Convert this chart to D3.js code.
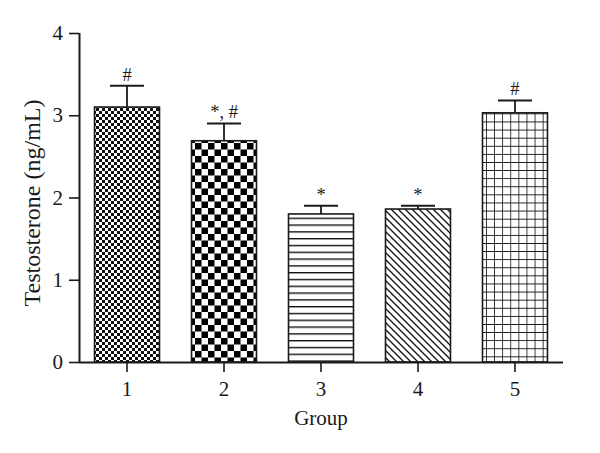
<!DOCTYPE html>
<html><head><meta charset="utf-8">
<script src="https://cdn.jsdelivr.net/npm/d3@7"></script>
<style>body{margin:0;background:#fff}svg{display:block}</style>
</head><body><div id="c"></div>
<script>
const groups = ["1","2","3","4","5"];
const means = [3.10, 2.69, 1.80, 1.86, 3.03];
const errs = [0.26, 0.21, 0.10, 0.04, 0.15];
const marks = ["#", "*, #", "*", "*", "#"];
const yTicks = [0,1,2,3,4];

const W=600,H=453;
const svg=d3.select("#c").append("svg").attr("width",W).attr("height",H);
const mLeft=79,mRight=563,mTop=33,mBottom=362;
const x=d3.scaleBand().domain(groups).range([mLeft,mRight]).paddingInner(0.33).paddingOuter(0.16);
const y=d3.scaleLinear().domain([0,4]).range([mBottom,mTop]);
const ink="#1a1a1a";
const font="Liberation Serif";
const defs=svg.append("defs");
const p1=defs.append("pattern").attr("id","p1").attr("patternUnits","userSpaceOnUse").attr("width",6).attr("height",6);
p1.append("rect").attr("width",6).attr("height",6).attr("fill","#fff");
p1.append("rect").attr("x",0).attr("y",0).attr("width",3).attr("height",3).attr("fill","#111");
p1.append("rect").attr("x",3).attr("y",3).attr("width",3).attr("height",3).attr("fill","#111");
const p2=defs.append("pattern").attr("id","p2").attr("patternUnits","userSpaceOnUse").attr("width",13).attr("height",13);
p2.append("rect").attr("width",13).attr("height",13).attr("fill","#fff");
p2.append("rect").attr("x",0).attr("y",0).attr("width",6.5).attr("height",6.5).attr("fill","#000");
p2.append("rect").attr("x",6.5).attr("y",6.5).attr("width",6.5).attr("height",6.5).attr("fill","#000");
const p3=defs.append("pattern").attr("id","p3").attr("patternUnits","userSpaceOnUse").attr("width",10).attr("height",6.8);
p3.append("rect").attr("width",10).attr("height",6.8).attr("fill","#fff");
p3.append("line").attr("x1",0).attr("x2",10).attr("y1",0.7).attr("y2",0.7).attr("stroke","#111").attr("stroke-width",1.4);
const p4=defs.append("pattern").attr("id","p4").attr("patternUnits","userSpaceOnUse").attr("width",7).attr("height",7);
p4.append("rect").attr("width",7).attr("height",7).attr("fill","#fff");
p4.append("path").attr("d","M-1,-1 L8,8 M-1,6 L1,8 M6,-1 L8,1").attr("stroke","#111").attr("stroke-width",1.3);
const p5=defs.append("pattern").attr("id","p5").attr("patternUnits","userSpaceOnUse").attr("width",8.1).attr("height",8.1);
p5.append("rect").attr("width",8.1).attr("height",8.1).attr("fill","#fff");
p5.append("path").attr("d","M0,0 H8.1 M0,0 V8.1").attr("stroke","#111").attr("stroke-width",1.6);
const fills=["url(#p1)","url(#p2)","url(#p3)","url(#p4)","url(#p5)"];

const g=svg.append("g");
const ann=svg.append("g").attr("opacity",0.999);
groups.forEach((k,i)=>{
  const cx=x(k)+x.bandwidth()/2;
  const yt=y(means[i]+errs[i]);
  g.append("line").attr("x1",cx).attr("x2",cx).attr("y1",y(means[i])).attr("y2",yt).attr("stroke",ink).attr("stroke-width",1.8);
  g.append("line").attr("x1",cx-17).attr("x2",cx+17).attr("y1",yt).attr("y2",yt).attr("stroke",ink).attr("stroke-width",2);
  ann.append("text").attr("x",cx).attr("y",yt-5).attr("text-anchor","middle")
    .attr("font-family",font).attr("font-size",18.5).attr("fill",ink).text(marks[i]);
});
svg.append("g").selectAll("rect").data(groups).join("rect")
  .attr("x",d=>x(d)).attr("width",x.bandwidth())
  .attr("y",(d,i)=>y(means[i])).attr("height",(d,i)=>y(0)-y(means[i]))
  .attr("fill",(d,i)=>fills[i]).attr("stroke",ink).attr("stroke-width",1.6);

const ya=svg.append("g").attr("transform",`translate(${mLeft},0)`)
  .call(d3.axisLeft(y).tickValues(yTicks).tickFormat(d3.format("d")).tickSize(10).tickSizeOuter(0).tickPadding(6));
const xa=svg.append("g").attr("transform",`translate(0,${mBottom})`)
  .call(d3.axisBottom(x).tickSize(10).tickSizeOuter(0).tickPadding(9));
[ya,xa].forEach(a=>{
  a.select(".domain").attr("stroke",ink).attr("stroke-width",2);
  a.selectAll(".tick line").attr("stroke",ink).attr("stroke-width",1.6);
  a.selectAll("text").attr("font-family",font).attr("font-size",21).attr("fill",ink);
});
xa.select(".domain").attr("d",`M${mLeft},0.5H${mRight}`);
ya.select(".domain").attr("d",`M0.5,${mBottom}V${mTop}`);

svg.append("text").attr("x",(mLeft+mRight)/2).attr("y",425).attr("text-anchor","middle")
  .attr("font-family",font).attr("font-size",21).attr("fill",ink).text("Group");
svg.append("text").attr("transform",`translate(40,203) rotate(-90)`).attr("text-anchor","middle")
  .attr("font-family",font).attr("font-size",24).attr("fill",ink).text("Testosterone (ng/mL)");
</script></body></html>
